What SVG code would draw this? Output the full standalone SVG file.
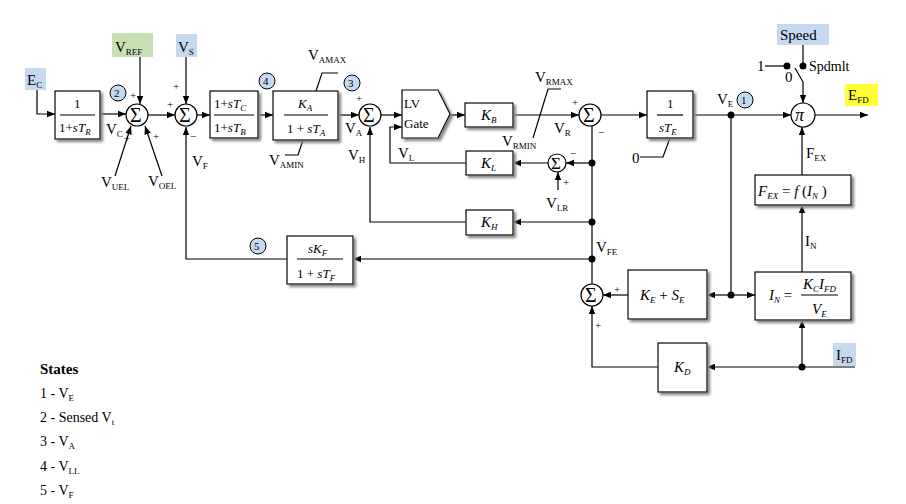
<svg xmlns="http://www.w3.org/2000/svg" width="906" height="504" viewBox="0 0 906 504">
<defs>
<marker id="a" viewBox="0 0 10 10" refX="10" refY="5" markerWidth="7" markerHeight="7" orient="auto-start-reverse"><path d="M0,1 L10,5 L0,9 z" fill="#000"/></marker>
<filter id="sh" x="-10%" y="-10%" width="130%" height="130%"><feDropShadow dx="2.5" dy="2.5" stdDeviation="0.8" flood-color="#888"/></filter>
</defs>
<style>
text{font-family:"Liberation Serif",serif;font-size:15px;fill:#000}
.i{font-style:italic}
.s{font-size:9px}
.f{font-size:13px}
.b{fill:#fff;stroke:#000;stroke-width:1.2;filter:url(#sh)}
.c{fill:#fff;stroke:#000;stroke-width:1.2}
.n{fill:#c5d9f1;stroke:#000;stroke-width:1}
.l{fill:none;stroke:#000;stroke-width:1.2}
.ar{fill:none;stroke:#000;stroke-width:1.2;marker-end:url(#a)}
.d{fill:#000}
.sm{font-size:11px}
.sig{font-size:20px}
</style>
<rect width="906" height="504" fill="#fff"/>
<g id="connectors">
<path class="ar" d="M37,90 V114 H55"/>
<path class="ar" d="M100,114 H126"/>
<path class="ar" d="M140,57 V104"/>
<path class="ar" d="M115,176 L131,126"/>
<path class="ar" d="M162,176 L145,126"/>
<path class="ar" d="M148,115 H175"/>
<path class="ar" d="M186,57 V104"/>
<path class="ar" d="M197,115 H210"/>
<path class="ar" d="M258,115 H273"/>
<path class="ar" d="M338,115 H359"/>
<path class="ar" d="M381,115 H402"/>
<path class="ar" d="M450,115 H465"/>
<path class="ar" d="M513,115 H579"/>
<path class="ar" d="M601,115 H647"/>
<path class="ar" d="M693,115 H791"/>
<path class="ar" d="M815,115 H868"/>
<path class="l" d="M338,73 H322 L316,91"/>
<path class="l" d="M303,140 L298,155 H285"/>
<path class="l" d="M561,89 H548 L533,138"/>
<path class="l" d="M640,157 H663 L670,138"/>
<path class="ar" d="M466,163 H390 V127 H402"/>
<path class="ar" d="M592,163 H566"/>
<path class="ar" d="M548,163 H513"/>
<path class="ar" d="M558,190 V172"/>
<path class="l" d="M592,288 V126"/>
<path class="ar" d="M592,222 H513"/>
<path class="ar" d="M466,222 H370 V127"/>
<path class="ar" d="M592,259 H353"/>
<path class="ar" d="M287,259 H186 V127"/>
<path class="l" d="M731,115 V295"/>
<path class="ar" d="M731,295 H707"/>
<path class="ar" d="M731,295 H755"/>
<path class="ar" d="M628,295 H603"/>
<path class="ar" d="M658,367 H592 V306"/>
<path class="ar" d="M855,367 H707"/>
<path class="ar" d="M802,367 V320"/>
<path class="ar" d="M802,272 V205"/>
<path class="ar" d="M802,175 V127"/>
<path class="l" d="M803,45 V66"/>
<path class="l" d="M765,66 H787"/>
<path class="l" d="M795,68 L803,82"/>
<path class="ar" d="M803,82 V103"/>
<circle class="d" cx="731" cy="115" r="3.5"/>
<circle class="d" cx="731" cy="295" r="3.5"/>
<circle class="d" cx="592" cy="163" r="3.5"/>
<circle class="d" cx="592" cy="222" r="3.5"/>
<circle class="d" cx="592" cy="259" r="3.5"/>
<circle class="d" cx="802" cy="367" r="3.5"/>
<circle class="d" cx="787" cy="66" r="3.5"/>
<circle class="d" cx="803" cy="66" r="3.5"/>
</g>
<g id="inputs">
<rect x="25" y="68" width="21" height="22" fill="#c5d9f1"/><text x="27" y="85">E<tspan class="s" dy="3">C</tspan></text>
<rect x="112" y="33" width="41" height="24" fill="#c6e0b4"/><text x="115" y="52">V<tspan class="s" dy="3">REF</tspan></text>
<rect x="176" y="34" width="21" height="23" fill="#c5d9f1"/><text x="178" y="52">V<tspan class="s" dy="3">S</tspan></text>
<rect x="777" y="24" width="52" height="21" fill="#c5d9f1"/><text x="780" y="40">Speed</text>
<rect x="845" y="84" width="33" height="22" fill="#ffff33"/><text x="848" y="100">E<tspan class="s" dy="3">FD</tspan></text>
<rect x="833" y="343" width="23" height="23" fill="#c5d9f1"/><text x="836" y="360">I<tspan class="s" dy="3">FD</tspan></text>
</g>
<g id="tr"><rect class="b" x="55" y="91" width="45" height="48"/><text class="f" x="74" y="108">1</text><path class="l" d="M60,115 H95"/><text class="f" x="59" y="132">1+<tspan class="i">sT</tspan><tspan class="s i" dy="3">R</tspan></text></g>
<g id="sum1"><circle class="c" cx="137" cy="115" r="11"/><text class="sig" x="130" y="122">Σ</text><text class="sm" x="130" y="99">+</text><text class="sm" x="124" y="142">+</text><text class="sm" x="153" y="140">+</text></g>
<g id="sum2"><circle class="c" cx="186" cy="115" r="11"/><text class="sig" x="179" y="122">Σ</text><text class="sm" x="167" y="108">+</text><text class="sm" x="173" y="90">+</text><text class="sm" x="190" y="140">−</text></g>
<g id="tc"><rect class="b" x="210" y="91" width="48" height="47"/><text class="f" x="214" y="108">1+<tspan class="i">sT</tspan><tspan class="s i" dy="3">C</tspan></text><path class="l" d="M214,115 H254"/><text class="f" x="214" y="132">1+<tspan class="i">sT</tspan><tspan class="s i" dy="3">B</tspan></text></g>
<g id="ka"><rect class="b" x="273" y="91" width="65" height="49"/><text class="i f" x="298" y="108">K<tspan class="s" dy="3">A</tspan></text><path class="l" d="M284,115 H328"/><text class="f" x="287" y="133">1 + <tspan class="i">sT</tspan><tspan class="s i" dy="3">A</tspan></text></g>
<g id="sum3"><circle class="c" cx="370" cy="115" r="11"/><text class="sig" x="363" y="122">Σ</text><text class="sm" x="356" y="102">+</text></g>
<g id="lvgate"><polygon class="b" points="402,90 438,90 450,114 438,138 402,138"/><text x="404" y="108" style="font-size:13px">LV</text><text x="404" y="128" style="font-size:13px">Gate</text></g>
<g id="kb"><rect class="b" x="465" y="103" width="48" height="24"/><text class="i" x="481" y="120">K<tspan class="s" dy="3">B</tspan></text></g>
<g id="sum4"><circle class="c" cx="590" cy="115" r="11"/><text class="sig" x="583" y="122">Σ</text><text class="sm" x="572" y="106">+</text><text class="sm" x="598" y="136">−</text></g>
<g id="te"><rect class="b" x="647" y="91" width="46" height="47"/><text class="f" x="667" y="108">1</text><path class="l" d="M657,115 H683"/><text class="i f" x="659" y="132">sT<tspan class="s" dy="3">E</tspan></text></g>
<g id="kl"><rect class="b" x="466" y="151" width="47" height="24"/><text class="i" x="481" y="168">K<tspan class="s" dy="3">L</tspan></text></g>
<g id="sum6"><circle class="c" cx="557" cy="163" r="9"/><text x="551" y="169" style="font-size:17px">Σ</text><text class="sm" x="570" y="157">−</text><text class="sm" x="563" y="186">+</text></g>
<g id="kh"><rect class="b" x="466" y="210" width="47" height="25"/><text class="i" x="481" y="227">K<tspan class="s" dy="3">H</tspan></text></g>
<g id="kf"><rect class="b" x="287" y="236" width="66" height="48"/><text class="i f" x="308" y="253">sK<tspan class="s" dy="3">F</tspan></text><path class="l" d="M297,259 H343"/><text class="f" x="297" y="278">1 + <tspan class="i">sT</tspan><tspan class="s i" dy="3">F</tspan></text></g>
<g id="sum5"><circle class="c" cx="592" cy="295" r="11"/><text class="sig" x="585" y="302">Σ</text><text class="sm" x="614" y="293">+</text><text class="sm" x="595" y="329">+</text></g>
<g id="kese"><rect class="b" x="628" y="270" width="79" height="49"/><text class="i" x="640" y="300">K<tspan class="s" dy="3">E</tspan><tspan dy="-3" font-style="normal"> + </tspan>S<tspan class="s" dy="3">E</tspan></text></g>
<g id="kd"><rect class="b" x="658" y="343" width="49" height="49"/><text class="i" x="674" y="372">K<tspan class="s" dy="3">D</tspan></text></g>
<g id="in"><rect class="b" x="755" y="272" width="96" height="48"/><text class="i" x="769" y="300">I<tspan class="s" dy="3">N</tspan><tspan dy="-3" font-style="normal"> =</tspan></text><text class="i" x="803" y="289">K<tspan class="s" dy="3">C</tspan><tspan dy="-3">I</tspan><tspan class="s" dy="3">FD</tspan></text><path class="l" d="M801,295 H838"/><text class="i" x="812" y="314">V<tspan class="s" dy="3">E</tspan></text></g>
<g id="fex"><rect class="b" x="755" y="175" width="96" height="30"/><text class="i" x="758" y="196">F<tspan class="s" dy="3">EX</tspan><tspan dy="-3" font-style="normal"> = </tspan>f<tspan font-style="normal"> (</tspan>I<tspan class="s" dy="3">N</tspan><tspan dy="-3" font-style="normal"> )</tspan></text></g>
<g id="pi"><circle class="c" cx="803" cy="115" r="12"/><text class="i" x="795" y="121" style="font-size:18px">π</text></g>
<g id="states-circles">
<circle class="n" cx="118" cy="93" r="8"/><text class="sm" x="114" y="97">2</text>
<circle class="n" cx="267" cy="81" r="8"/><text class="sm" x="263" y="85">4</text>
<circle class="n" cx="352" cy="83" r="8"/><text class="sm" x="348" y="87">3</text>
<circle class="n" cx="745" cy="100" r="8"/><text class="sm" x="741" y="104">1</text>
<circle class="n" cx="258" cy="246" r="8"/><text class="sm" x="254" y="250">5</text>
</g>
<g id="labels">
<text x="106" y="134">V<tspan class="s" dy="3">C</tspan></text>
<text x="101" y="187">V<tspan class="s" dy="3">UEL</tspan></text>
<text x="148" y="186">V<tspan class="s" dy="3">OEL</tspan></text>
<text x="192" y="166">V<tspan class="s" dy="3">F</tspan></text>
<text x="308" y="60">V<tspan class="s" dy="3">AMAX</tspan></text>
<text x="269" y="165">V<tspan class="s" dy="3">AMIN</tspan></text>
<text x="345" y="133">V<tspan class="s" dy="3">A</tspan></text>
<text x="348" y="160">V<tspan class="s" dy="3">H</tspan></text>
<text x="398" y="158">V<tspan class="s" dy="3">L</tspan></text>
<text x="535" y="82">V<tspan class="s" dy="3">RMAX</tspan></text>
<text x="502" y="146">V<tspan class="s" dy="3">RMIN</tspan></text>
<text x="554" y="133">V<tspan class="s" dy="3">R</tspan></text>
<text x="546" y="208">V<tspan class="s" dy="3">LR</tspan></text>
<text x="596" y="252">V<tspan class="s" dy="3">FE</tspan></text>
<text x="632" y="163">0</text>
<text x="717" y="104">V<tspan class="s" dy="3">E</tspan></text>
<text x="806" y="158">F<tspan class="s" dy="3">EX</tspan></text>
<text x="805" y="246">I<tspan class="s" dy="3">N</tspan></text>
<text x="757" y="71">1</text>
<text x="785" y="82">0</text>
<text x="809" y="71" style="font-size:14px">Spdmlt</text>
</g>
<g id="states">
<text x="40" y="374" style="font-weight:bold;font-size:15px">States</text>
<text x="40" y="398" style="font-size:14px">1 - V<tspan class="s" dy="3">E</tspan></text>
<text x="40" y="422" style="font-size:14px">2 - Sensed V<tspan class="s" dy="3">t</tspan></text>
<text x="40" y="446" style="font-size:14px">3 - V<tspan class="s" dy="3">A</tspan></text>
<text x="40" y="471" style="font-size:14px">4 - V<tspan class="s" dy="3">LL</tspan></text>
<text x="40" y="495" style="font-size:14px">5 - V<tspan class="s" dy="3">F</tspan></text>
</g>
</svg>
